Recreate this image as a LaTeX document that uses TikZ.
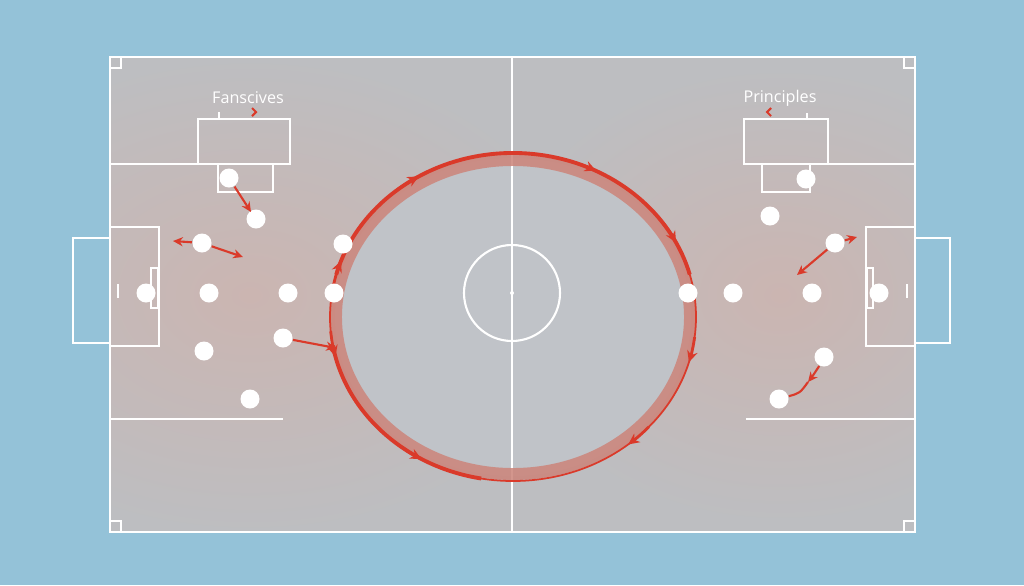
\documentclass[tikz,border=0pt]{standalone}
\usepackage{fontspec}
\setmainfont{Open Sans}
\usetikzlibrary{arrows.meta}
\usetikzlibrary{positioning,shapes}
\usetikzlibrary{calc}
\usepackage{xcolor}
\definecolor{bgblue}{RGB}{148,194,216}
\definecolor{pitchgray}{RGB}{189,190,193}
\definecolor{glow}{RGB}{203,181,177}
\definecolor{innergray}{RGB}{192,195,200}
\definecolor{ringred}{RGB}{218,58,42}
\definecolor{ringband}{RGB}{204,132,122}

\begin{document}
\begin{tikzpicture}[x=0.1mm, y=-0.1mm,
    pitchline/.style = {draw=white, line width=0.6pt},
    main/.style = {circle, fill=white, inner sep=0pt, minimum size=1.9mm},
    passline/.style = {draw=ringred, line width=0.6pt},
    pass/.style = {passline, -{Stealth[length=2.8pt,width=2.6pt]}},
    ringline/.style = {draw=ringred, line width=1.1pt},
    ringarrow/.style = {draw=ringred, line width=0.8pt, -{Stealth[length=3.2pt,width=3pt]}},
    titletext/.style = {text=white, inner sep=0pt, font=\fontsize{4.6pt}{5pt}\selectfont}]
    \fill[bgblue] (0,0) rectangle (1024,585);
    \useasboundingbox (0,0) rectangle (1024,585);
    % pitch and shading
    \fill[pitchgray] (110,57) rectangle (915,532);
    \begin{scope}
        \clip (110,57) rectangle (915,532);
        \shade[inner color=glow, outer color=pitchgray] (250,295) ellipse[x radius=340, y radius=240];
        \shade[inner color=glow, outer color=pitchgray] (780,295) ellipse[x radius=290, y radius=230];
    \end{scope}
    \coordinate (ctr) at (513,317);
    \fill[innergray] (ctr) ellipse[x radius=178, y radius=159];
    % lines
    \draw[pitchline] (110,57) rectangle (915,532);
    \draw[pitchline] (512,57) -- (512,532);
    \draw[pitchline] (512,293) circle[radius=48];
    \fill[white] (512,293) circle[radius=2];
    \foreach \cx/\cy in {110/57, 904/57, 110/521, 904/521}
        \draw[pitchline] (\cx,\cy) rectangle ++(11,11);
    \draw[pitchline] (110,164) -- (290,164);
    \draw[pitchline] (198,119) rectangle (290,164);
    \draw[pitchline] (218,164) rectangle (273,192);
    \draw[pitchline] (744,164) -- (915,164);
    \draw[pitchline] (744,119) rectangle (828,164);
    \draw[pitchline] (762,164) rectangle (810,192);
    \draw[pitchline] (110,227) rectangle (159,346);
    \draw[pitchline] (73,238) rectangle (110,343);
    \draw[pitchline] (151,268) rectangle (158,308);
    \draw[pitchline] (118,284) -- (118,298);
    \draw[pitchline] (866,227) rectangle (915,346);
    \draw[pitchline] (915,238) rectangle (950,343);
    \draw[pitchline] (867,268) rectangle (873,308);
    \draw[pitchline] (907,284) -- (907,298);
    \draw[pitchline] (110,419) -- (283,419);
    \draw[pitchline] (746,419) -- (915,419);
    \draw[white, line width=0.4pt] (219,112) -- (219,119);
    \draw[white, line width=0.4pt] (807,113) -- (807,119);
    \draw[ringred, line width=0.6pt] (252,108) -- (256,112) -- (252,116);
    \draw[ringred, line width=0.6pt] (771,108) -- (767,112) -- (771,116);
    % ring
    \draw[ringband, line width=3.4pt, opacity=0.85] (ctr) ellipse[x radius=177, y radius=157];
    \draw[ringred, line width=0.5pt] (ctr) ellipse[x radius=183, y radius=164];
    \draw[ringline] (ctr) ++(195:183 and 164) arc[start angle=195, end angle=345, x radius=183, y radius=164];
    \draw[ringline] (ctr) ++(100:183 and 164) arc[start angle=100, end angle=170, x radius=183, y radius=164];
    \foreach \a in {200,239,297,333,16,51}
        \draw[ringarrow] (ctr) ++(\a-9:183 and 164) arc[start angle=\a-9, end angle=\a, x radius=183, y radius=164];
    \foreach \a in {120,166}
        \draw[ringarrow] (ctr) ++(\a+9:183 and 164) arc[start angle=\a+9, end angle=\a, x radius=183, y radius=164];
    % players
    \node[main] (l1) at (229,178) {};
    \node[main] (l2) at (256,219) {};
    \node[main] (l3) at (202,243) {};
    \node[main] (l4) at (343,244) {};
    \node[main] (l5) at (146,293) {};
    \node[main] (l6) at (209,293) {};
    \node[main] (l7) at (288,293) {};
    \node[main] (l8) at (334,293) {};
    \node[main] (l9) at (204,351) {};
    \node[main] (l10) at (283,338) {};
    \node[main] (l11) at (250,399) {};
    \node[main] (r1) at (806,179) {};
    \node[main] (r2) at (770,216) {};
    \node[main] (r3) at (835,243) {};
    \node[main] (r4) at (688,293) {};
    \node[main] (r5) at (733,293) {};
    \node[main] (r6) at (812,293) {};
    \node[main] (r7) at (879,293) {};
    \node[main] (r8) at (824,357) {};
    \node[main] (r9) at (779,399) {};
    % runs
    \coordinate (a1) at (251,212);
    \coordinate (a2) at (173,241);
    \coordinate (a3) at (243,257);
    \coordinate (a4) at (336,348);
    \coordinate (b1) at (857,237);
    \coordinate (b2) at (797,275);
    \coordinate (b3) at (808,382);
    \draw[pass] (l1) -- (a1);
    \draw[pass] (l3) -- (a2);
    \draw[pass] (l3) -- (a3);
    \draw[pass] (l10) -- (a4);
    \draw[pass] (r3) -- (b1);
    \draw[pass] (r3) -- (b2);
    \draw[pass] (r8) .. controls (816,372) .. (b3);
    \draw[passline] (b3) .. controls (800,393) .. (r9);
    % titles
    \node[titletext] (t1) at (248,98) {Fanscives};
    \node[titletext] (t2) at (780,98) {Principles};
\end{tikzpicture}
\end{document}
